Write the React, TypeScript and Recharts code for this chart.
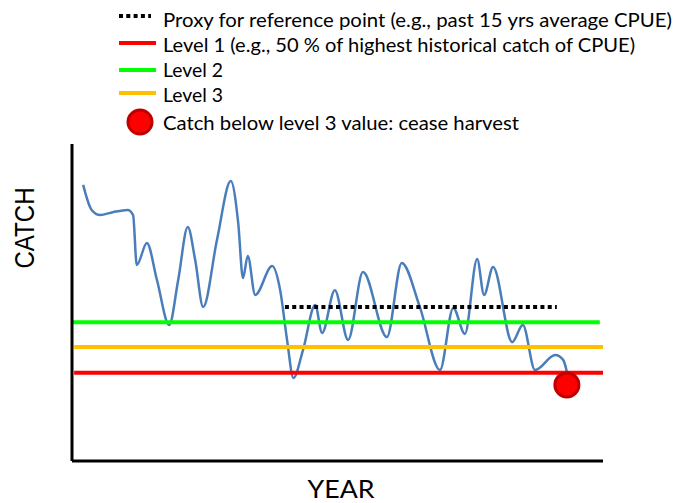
import React from 'react';
import { ComposedChart, Line, XAxis, YAxis, ReferenceLine, ReferenceDot } from 'recharts';

// catch series (year index 0-100, catch 0-100)
const years = [
  2.1, 3.7, 5.3, 7.7, 10.5, 11.5, 12.2, 14.1, 16.0, 18.3, 20.0, 21.8, 23.2, 24.7, 27.3,
  29.9, 31.3, 32.2, 33.1, 34.5, 37.7, 39.2, 40.5, 41.7, 43.5, 45.8, 47.1, 49.5, 52.0,
  54.8, 59.3, 62.1, 65.5, 69.3, 71.8, 74.0, 76.3, 77.6, 79.3, 82.9, 84.9, 87.2, 91.0,
  92.5, 93.2,
];
const catchValues = [
  87.1, 79.2, 77.6, 78.5, 79.2, 77.6, 61.8, 68.8, 57.1, 42.9, 57.1, 73.8, 63.4, 48.6, 69.7,
  88.3, 75.1, 57.7, 64.7, 52.4, 61.5, 53.9, 38.2, 26.2, 35.0, 49.2, 40.4, 53.9, 38.2,
  59.6, 39.1, 62.5, 48.6, 28.7, 48.3, 40.1, 63.7, 52.4, 61.2, 37.5, 42.9, 28.7, 33.4,
  31.9, 28.1,
];

const PROXY = 48.6;
const PROXY_RANGE = [40.1, 91.3];
const LEVEL_1 = 27.8;
const LEVEL_2 = 43.8;
const LEVEL_3 = 36.0;
const LEVEL_RANGE = [0.4, 100];
const LEVEL_2_RANGE = [0, 99.4];
const CEASE_POINT = { year: 93.2, value: 24.0 };

const legendLabels = [
  'Proxy for reference point (e.g., past 15 yrs average CPUE)',
  'Level 1 (e.g., 50 % of highest historical catch of CPUE)',
  'Level 2',
  'Level 3',
  'Catch below level 3 value: cease harvest',
];

const BLUE = '#4a7ebb';
const RED = '#ff0000';
const GREEN = '#00ff00';
const ORANGE = '#ffc000';

const chartData = years.map((year, i) => ({ year, value: catchValues[i] }));

const LEGEND_FONT = 'Lato, "Open Sans", sans-serif';
const legendRows = [
  { y: 16, baseline: 26.5, width: 509 },
  { y: 43, baseline: 52, width: 472 },
  { y: 70, baseline: 77, width: 60 },
  { y: 93, baseline: 102, width: 60 },
  { y: 122, baseline: 130, width: 356 },
];

const Overlay: React.FC = () => (
  <svg width={677} height={503} style={{ position: 'absolute', left: 0, top: 0, pointerEvents: 'none' }}>
    <line x1={119} x2={151} y1={legendRows[0].y} y2={legendRows[0].y} stroke="#000" strokeWidth={4} strokeDasharray="4 3.3" />
    <line x1={119} x2={156} y1={legendRows[1].y} y2={legendRows[1].y} stroke={RED} strokeWidth={4} />
    <line x1={119} x2={156} y1={legendRows[2].y} y2={legendRows[2].y} stroke={GREEN} strokeWidth={4} />
    <line x1={119} x2={156} y1={legendRows[3].y} y2={legendRows[3].y} stroke={ORANGE} strokeWidth={4} />
    <circle cx={140} cy={legendRows[4].y} r={12} fill={RED} stroke="#c00000" strokeWidth={3} />
    {legendLabels.map((label, i) => (
      <text
        key={label}
        x={163}
        y={legendRows[i].baseline}
        fontFamily={LEGEND_FONT}
        fontSize={20}
        fill="#000"
        textLength={legendRows[i].width}
        lengthAdjust="spacingAndGlyphs"
      >
        {label}
      </text>
    ))}
    <text
      x={0}
      y={0}
      transform="translate(34 228) rotate(-90)"
      textAnchor="middle"
      fontFamily='"Liberation Sans", Arial, sans-serif'
      fontSize={28}
      textLength={81}
      lengthAdjust="spacingAndGlyphs"
    >
      CATCH
    </text>
    <text
      x={341}
      y={498}
      textAnchor="middle"
      fontFamily={LEGEND_FONT}
      fontSize={25}
      textLength={67}
      lengthAdjust="spacingAndGlyphs"
    >
      YEAR
    </text>
  </svg>
);

export default function App() {
  return (
    <div style={{ position: 'absolute', left: 0, top: 0, width: 677, height: 503, background: '#fff' }}>
      <ComposedChart
        width={677}
        height={503}
        data={chartData}
        margin={{ top: 144, right: 74, bottom: 41, left: 71 }}
      >
        <XAxis
          dataKey="year"
          type="number"
          domain={[0, 100]}
          tick={false}
          tickLine={false}
          height={1}
          axisLine={{ stroke: '#000', strokeWidth: 3 }}
        />
        <YAxis
          type="number"
          domain={[0, 100]}
          tick={false}
          tickLine={false}
          width={1}
          axisLine={{ stroke: '#000', strokeWidth: 3 }}
        />
        <Line
          type="monotone"
          dataKey="value"
          stroke={BLUE}
          strokeWidth={2.5}
          dot={false}
          isAnimationActive={false}
        />
        <ReferenceLine
          segment={[{ x: PROXY_RANGE[0], y: PROXY }, { x: PROXY_RANGE[1], y: PROXY }]}
          stroke="#000"
          strokeWidth={4}
          strokeDasharray="4 3.3"
        />
        <ReferenceLine
          segment={[{ x: LEVEL_2_RANGE[0], y: LEVEL_2 }, { x: LEVEL_2_RANGE[1], y: LEVEL_2 }]}
          stroke={GREEN}
          strokeWidth={4}
        />
        <ReferenceLine
          segment={[{ x: LEVEL_RANGE[0], y: LEVEL_3 }, { x: LEVEL_RANGE[1], y: LEVEL_3 }]}
          stroke={ORANGE}
          strokeWidth={4}
        />
        <ReferenceLine
          segment={[{ x: LEVEL_RANGE[0], y: LEVEL_1 }, { x: LEVEL_RANGE[1], y: LEVEL_1 }]}
          stroke={RED}
          strokeWidth={4}
        />
        <ReferenceDot
          x={CEASE_POINT.year}
          y={CEASE_POINT.value}
          r={12}
          fill={RED}
          stroke="#c00000"
          strokeWidth={3}
        />
      </ComposedChart>
      <Overlay />
    </div>
  );
}
